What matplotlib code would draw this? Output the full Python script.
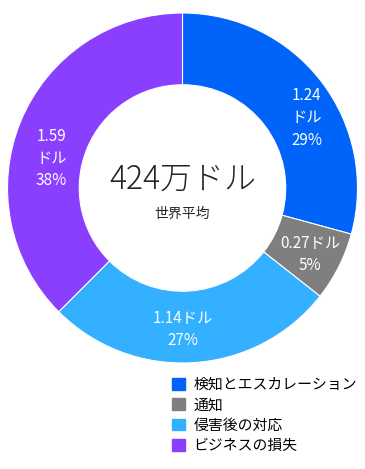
import matplotlib
matplotlib.use("Agg")
import matplotlib.pyplot as plt
from matplotlib.patches import Patch

plt.rcParams['font.family'] = ['Noto Sans CJK JP', 'DejaVu Sans']

categories = ["検知とエスカレーション", "通知", "侵害後の対応", "ビジネスの損失"]
values = [1.24, 0.27, 1.14, 1.59]
labels = ["1.24\nドル\n29%", "0.27ドル\n5%", "1.14ドル\n27%", "1.59\nドル\n38%"]
colors = ["#0064FA", "#7F7F7F", "#33B0FF", "#8A3FFF"]
total_text = "424万ドル"
sub_text = "世界平均"

fig = plt.figure(figsize=(3.65, 4.69), dpi=100)
ax = fig.add_axes([0.5 - 175/365, 1 - 363/469, 350/365, 350/469])
wedges, _ = ax.pie(values, colors=colors, startangle=90, counterclock=False,
                   radius=1.0, wedgeprops=dict(width=0.41, edgecolor='white', linewidth=0.8))
label_pos = [(0.71, 0.40), (0.73, -0.38), (0.0, -0.81), (-0.75, 0.17)]
for (x, y), t in zip(label_pos, labels):
    ax.text(x, y, t, ha='center', va='center', color='white', fontsize=11, linespacing=1.4)
ax.text(0, 0.05, total_text, ha='center', va='center', fontsize=23, color='#262626', fontweight='light')
ax.text(0, -0.15, sub_text, ha='center', va='center', fontsize=10, color='#262626')
ax.set_xlim(-1, 1); ax.set_ylim(-1, 1)
ax.set_aspect('equal')
ax.axis('off')

handles = [Patch(facecolor=c, edgecolor=c) for c in colors]
fig.legend(handles, categories, loc='upper left', bbox_to_anchor=(172/365, 1 - 378/469),
           frameon=False, fontsize=10.7, handlelength=0.85, handleheight=0.85,
           handletextpad=0.6, labelspacing=0.42, borderaxespad=0, borderpad=0)
fig.savefig("out.png", dpi=100, facecolor='white')
